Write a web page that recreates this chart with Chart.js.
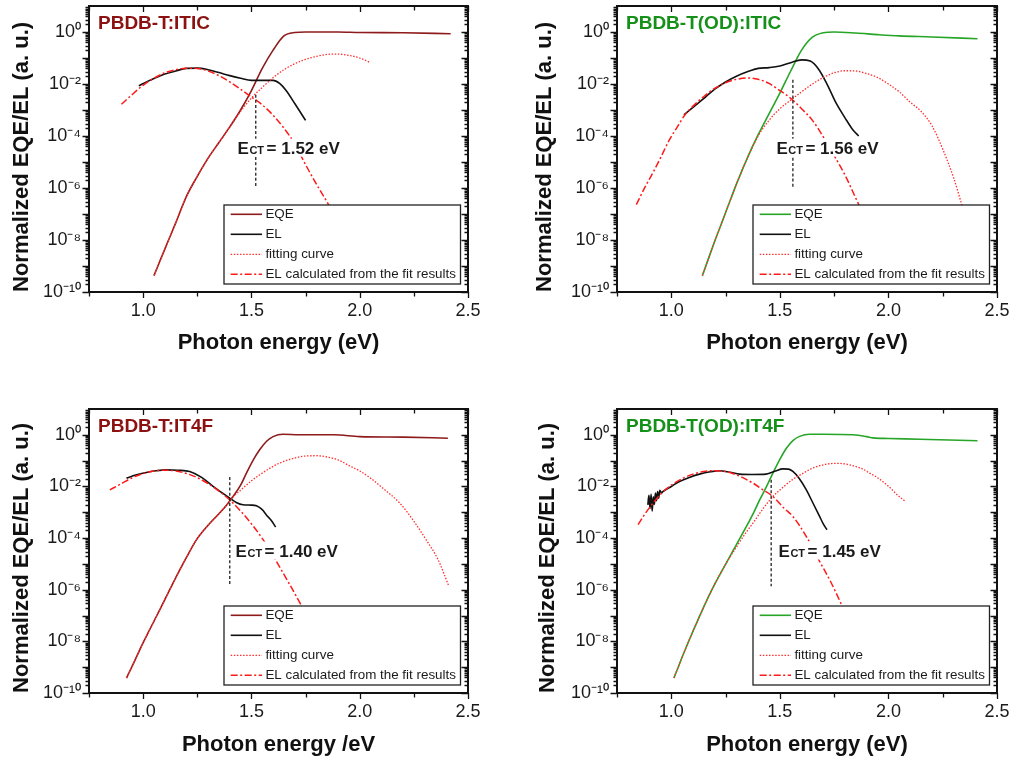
<!DOCTYPE html>
<html><head><meta charset="utf-8">
<script src="https://cdn.jsdelivr.net/npm/chart.js@4.4.1/dist/chart.umd.min.js"></script>
<style>
body{margin:0;background:#fff;width:1015px;height:762px;overflow:hidden;position:relative}
.p{position:absolute;width:507px;height:381px}
canvas{display:block}
</style></head><body>
<div class="p" style="left:0;top:0"><canvas id="c0" width="507" height="381"></canvas></div>
<div class="p" style="left:508px;top:0"><canvas id="c1" width="507" height="381"></canvas></div>
<div class="p" style="left:0;top:381px"><canvas id="c2" width="507" height="381"></canvas></div>
<div class="p" style="left:508px;top:381px"><canvas id="c3" width="507" height="381"></canvas></div>
<script>
// ---------- text / ticks ----------
const panelTitles = ['PBDB-T:ITIC', 'PBDB-T(OD):ITIC', 'PBDB-T:IT4F', 'PBDB-T(OD):IT4F'];
const xTitles = ['Photon energy (eV)', 'Photon energy (eV)', 'Photon energy /eV', 'Photon energy (eV)'];
const yTitle = 'Normalized EQE/EL (a. u.)';
const legendLabels = ['EQE', 'EL', 'fitting curve', 'EL calculated from the fit results'];
const xTicks = [1.0, 1.5, 2.0, 2.5];
const xTickMarks = [0.75, 1.0, 1.25, 1.5, 1.75, 2.0, 2.25, 2.5];
const yTicks = [1e-10, 1e-8, 1e-6, 1e-4, 1e-2, 1];
const yTickLabels = ['10\u207B\u00B9\u2070', '10\u207B\u2078', '10\u207B\u2076', '10\u207B\u2074', '10\u207B\u00B2', '10\u2070'];
const ectValues = [1.52, 1.56, 1.40, 1.46];
const ectLabels = ['1.52', '1.56', '1.40', '1.45'];
const ectYRanges = [[3.9e-3, 1e-6], [1.45e-2, 1e-6], [2.3e-2, 1.35e-6], [1.8e-2, 1.35e-6]];
const ectLabelPos = [[1.436, 3.55e-5], [1.484, 3.55e-5], [1.427, 3.3e-5], [1.494, 3.3e-5]];

// ---------- Panel 1: PBDB-T:ITIC ----------
const p1EQE = [[1.05,4.27e-10],[1.10,4.47e-9],[1.15,4.47e-8],[1.20,4.79e-7],[1.25,2.82e-6],[1.30,1.41e-5],[1.35,5.62e-5],[1.40,2.24e-4],[1.45,1.0e-3],[1.50,5.62e-3],[1.55,3.98e-2],[1.60,0.20],[1.65,0.708],[1.70,0.955],[1.75,1.0],[1.90,1.0],[2.0,0.955],[2.2,0.933],[2.42,0.861]];
const p1EL = [[0.98,8.5e-3],[1.02,1.26e-2],[1.06,1.78e-2],[1.10,2.4e-2],[1.15,3.16e-2],[1.20,3.98e-2],[1.25,4.07e-2],[1.30,3.55e-2],[1.35,2.75e-2],[1.40,2.1e-2],[1.45,1.66e-2],[1.50,1.38e-2],[1.55,1.38e-2],[1.60,1.38e-2],[1.63,1.05e-2],[1.66,5.6e-3],[1.70,1.78e-3],[1.75,4.0e-4]];
const p1Fit = [[1.05,4.27e-10],[1.10,4.47e-9],[1.15,4.47e-8],[1.20,4.79e-7],[1.25,2.82e-6],[1.30,1.41e-5],[1.35,5.62e-5],[1.40,2.24e-4],[1.45,8.9e-4],[1.50,2.88e-3],[1.55,7.4e-3],[1.60,1.74e-2],[1.65,3.55e-2],[1.70,6.0e-2],[1.75,8.9e-2],[1.80,0.115],[1.85,0.138],[1.90,0.141],[1.95,0.126],[2.00,0.1],[2.05,6.6e-2]];
const p1Calc = [[0.90,1.66e-3],[0.95,3.98e-3],[1.00,8.9e-3],[1.05,1.66e-2],[1.10,2.69e-2],[1.15,3.55e-2],[1.20,4.07e-2],[1.25,3.98e-2],[1.30,3.16e-2],[1.35,2.09e-2],[1.40,1.2e-2],[1.45,6.3e-3],[1.50,3.16e-3],[1.55,1.58e-3],[1.60,6.3e-4],[1.65,2.0e-4],[1.70,5.0e-5],[1.75,7.9e-6],[1.80,1.41e-6],[1.85,2.82e-7],[1.90,5.0e-8],[1.95,7.9e-9]];

// ---------- Panel 2: PBDB-T(OD):ITIC ----------
const p2EQE = [[1.143,4.27e-10],[1.20,8.9e-9],[1.25,1.12e-7],[1.30,1.41e-6],[1.35,1.41e-5],[1.40,1.12e-4],[1.45,7.1e-4],[1.50,4.47e-3],[1.55,3.16e-2],[1.60,0.2],[1.65,0.63],[1.70,0.933],[1.75,1.0],[1.85,0.912],[1.95,0.794],[2.05,0.708],[2.20,0.646],[2.41,0.55]];
const p2EL = [[1.058,6.6e-4],[1.10,1.26e-3],[1.16,3.3e-3],[1.20,6.3e-3],[1.25,1.2e-2],[1.30,2.0e-2],[1.35,2.95e-2],[1.40,3.98e-2],[1.45,4.27e-2],[1.50,4.9e-2],[1.55,6.6e-2],[1.60,8.5e-2],[1.64,7.6e-2],[1.68,3.55e-2],[1.72,8.9e-3],[1.76,1.78e-3],[1.80,5.0e-4],[1.835,1.78e-4],[1.863,1.0e-4]];
const p2Fit = [[1.143,4.27e-10],[1.20,8.9e-9],[1.25,1.12e-7],[1.30,1.41e-6],[1.35,1.41e-5],[1.40,1.0e-4],[1.45,3.98e-4],[1.50,1.12e-3],[1.55,2.4e-3],[1.60,5.0e-3],[1.65,1.0e-2],[1.70,1.78e-2],[1.75,2.69e-2],[1.80,3.24e-2],[1.85,3.16e-2],[1.90,2.51e-2],[1.95,1.78e-2],[2.00,1.0e-2],[2.05,5.0e-3],[2.10,2.0e-3],[2.15,8.9e-4],[2.20,2.51e-4],[2.25,3.16e-5],[2.30,2.51e-6],[2.34,2.0e-7],[2.38,1.58e-8]];
const p2Calc = [[0.839,2.3e-7],[0.88,1.12e-6],[0.915,3.8e-6],[0.95,1.41e-5],[0.99,6.8e-5],[1.03,2.4e-4],[1.06,6.0e-4],[1.10,1.41e-3],[1.15,3.3e-3],[1.20,6.8e-3],[1.25,1.12e-2],[1.30,1.51e-2],[1.35,1.7e-2],[1.40,1.51e-2],[1.45,1.05e-2],[1.50,5.6e-3],[1.55,2.82e-3],[1.60,1.12e-3],[1.65,4.0e-4],[1.70,9.3e-5],[1.75,1.78e-5],[1.80,3.16e-6],[1.85,4.0e-7],[1.90,5.0e-8]];

// ---------- Panel 3: PBDB-T:IT4F ----------
const p3EQE = [[0.923,3.8e-10],[0.95,1.12e-9],[1.00,8.9e-9],[1.03,2.82e-8],[1.08,1.9e-7],[1.138,1.82e-6],[1.20,1.78e-5],[1.246,8.5e-5],[1.30,3.16e-4],[1.338,6.9e-4],[1.38,1.66e-3],[1.415,4.07e-3],[1.45,1.12e-2],[1.477,3.3e-2],[1.51,0.112],[1.538,0.263],[1.57,0.562],[1.60,0.851],[1.646,1.05],[1.72,1.0],[1.88,1.0],[2.0,0.851],[2.2,0.813],[2.407,0.741]];
const p3EL = [[0.923,2.1e-2],[0.97,2.82e-2],[1.02,3.55e-2],[1.06,4.07e-2],[1.108,4.4e-2],[1.16,4.27e-2],[1.215,3.8e-2],[1.27,2.24e-2],[1.323,1.0e-2],[1.36,6.0e-3],[1.40,3.55e-3],[1.43,2.4e-3],[1.461,1.95e-3],[1.50,1.9e-3],[1.523,1.78e-3],[1.55,1.26e-3],[1.569,7.9e-4],[1.59,5.0e-4],[1.612,2.7e-4]];
const p3Fit = [[0.923,3.8e-10],[0.95,1.12e-9],[1.00,8.9e-9],[1.03,2.82e-8],[1.08,1.9e-7],[1.138,1.82e-6],[1.20,1.78e-5],[1.246,8.5e-5],[1.30,3.16e-4],[1.338,6.9e-4],[1.38,1.66e-3],[1.415,3.9e-3],[1.45,7.1e-3],[1.50,1.66e-2],[1.538,2.82e-2],[1.60,6.0e-2],[1.646,9.1e-2],[1.70,0.126],[1.75,0.151],[1.80,0.155],[1.85,0.138],[1.90,0.107],[1.953,6.3e-2],[2.00,3.98e-2],[2.05,2.1e-2],[2.10,9.5e-3],[2.184,2.3e-3],[2.25,4.5e-4],[2.307,8.5e-5],[2.36,1.58e-5],[2.412,1.35e-6]];
const p3Calc = [[0.846,7.4e-3],[0.90,1.29e-2],[0.95,2.19e-2],[1.00,3.16e-2],[1.05,3.98e-2],[1.10,4.27e-2],[1.15,3.98e-2],[1.20,3.16e-2],[1.25,2.19e-2],[1.30,1.29e-2],[1.35,6.6e-3],[1.40,3.0e-3],[1.45,1.12e-3],[1.50,3.55e-4],[1.553,8.9e-5],[1.615,1.26e-5],[1.677,1.58e-6],[1.73,2.5e-7],[1.78,4.0e-8]];

// ---------- Panel 4: PBDB-T(OD):IT4F ----------
const p4EQE = [[1.012,3.8e-10],[1.07,6.3e-9],[1.13,9.3e-8],[1.19,1.12e-6],[1.253,1.07e-5],[1.30,5.6e-5],[1.346,2.82e-4],[1.38,1.0e-3],[1.407,3.0e-3],[1.44,1.05e-2],[1.468,3.3e-2],[1.50,0.112],[1.53,0.30],[1.56,0.60],[1.591,0.87],[1.637,1.05],[1.70,1.05],[1.837,1.0],[1.90,0.85],[1.929,0.76],[2.00,0.724],[2.144,0.676],[2.41,0.589]];
const p4EL = [[0.892,1.95e-3],[0.897,4.5e-3],[0.902,1.4e-3],[0.907,5.0e-3],[0.912,1.12e-3],[0.917,4.0e-3],[0.922,2.0e-3],[0.927,5.6e-3],[0.932,2.8e-3],[0.937,6.3e-3],[0.942,3.5e-3],[0.947,7.1e-3],[0.955,5.6e-3],[0.961,6.3e-3],[1.00,1.0e-2],[1.038,1.55e-2],[1.08,2.19e-2],[1.13,3.0e-2],[1.18,3.7e-2],[1.222,4.07e-2],[1.27,3.55e-2],[1.315,3.0e-2],[1.37,2.9e-2],[1.437,3.0e-2],[1.48,3.98e-2],[1.514,4.8e-2],[1.54,4.7e-2],[1.56,3.8e-2],[1.59,2.0e-2],[1.622,7.4e-3],[1.65,2.5e-3],[1.683,6.9e-4],[1.70,3.55e-4],[1.717,2.1e-4]];
const p4Fit = [[1.012,3.8e-10],[1.07,6.3e-9],[1.13,9.3e-8],[1.19,1.12e-6],[1.253,1.07e-5],[1.30,4.5e-5],[1.346,1.74e-4],[1.376,3.8e-4],[1.42,1.29e-3],[1.468,4.07e-3],[1.52,1.02e-2],[1.56,1.9e-2],[1.606,3.2e-2],[1.65,5.1e-2],[1.70,6.9e-2],[1.76,7.9e-2],[1.82,6.9e-2],[1.88,4.8e-2],[1.913,3.3e-2],[1.95,2.19e-2],[2.00,1.02e-2],[2.04,4.8e-3],[2.075,2.75e-3]];
const p4Calc = [[0.847,3.3e-4],[0.88,8.9e-4],[0.92,2.5e-3],[0.96,6.0e-3],[1.00,1.12e-2],[1.05,2.0e-2],[1.10,3.0e-2],[1.15,3.8e-2],[1.20,4.07e-2],[1.25,3.8e-2],[1.30,2.82e-2],[1.376,1.35e-2],[1.42,7.6e-3],[1.468,4.07e-3],[1.52,1.41e-3],[1.56,6.9e-4],[1.622,1.15e-4],[1.683,1.26e-5],[1.737,1.82e-6],[1.788,2.24e-7],[1.83,4.0e-8]];

const seriesByPanel = [
  [p1EQE, p1EL, p1Fit, p1Calc],
  [p2EQE, p2EL, p2Fit, p2Calc],
  [p3EQE, p3EL, p3Fit, p3Calc],
  [p4EQE, p4EL, p4Fit, p4Calc]
];

// ---------- layout / style (not data) ----------
const RED_T = '#8c1212', GRN_T = '#15911a';
const RED_L = '#8e1b1b', GRN_L = '#27a527';
const layouts = [
  {area:{l:89, r:468, t:6, b:292}, xPad:24.8, yPad:8.5, tColor:RED_T, eqe:RED_L},
  {area:{l:109, r:489, t:6, b:292}, xPad:24.8, yPad:23.8, tColor:GRN_T, eqe:GRN_L},
  {area:{l:89, r:468, t:28, b:312}, xPad:3.8, yPad:8.5, tColor:RED_T, eqe:RED_L},
  {area:{l:109, r:489, t:28, b:312}, xPad:3.8, yPad:26.8, tColor:GRN_T, eqe:GRN_L}
];
const FONT = "'Liberation Sans', Arial, Helvetica, sans-serif";
const W = 507, H = 381;

const deco = {
  id: 'deco',
  afterDatasetsDraw(chart) {
    const o = chart.options.plugins.deco;
    const {ctx, chartArea: a, scales: {x, y}} = chart;
    ctx.save();
    // E_CT label
    const lx = x.getPixelForValue(o.ectPos[0]), ly = y.getPixelForValue(o.ectPos[1]);
    ctx.textBaseline = 'alphabetic';
    const base = ly + 6;
    ctx.font = 'bold 17px ' + FONT; const wE = ctx.measureText('E').width;
    ctx.font = 'bold 11px ' + FONT; const wC = ctx.measureText('CT').width;
    ctx.font = 'bold 17px ' + FONT; const rest = '= ' + o.ectText + ' eV'; const wR = ctx.measureText(rest).width;
    ctx.fillStyle = '#fff';
    ctx.fillRect(lx - 1, ly - 9, wE + wC + 3 + wR + 2, 18);
    ctx.fillStyle = '#1a1a1a';
    ctx.fillText('E', lx, base);
    ctx.font = 'bold 11px ' + FONT; ctx.fillText('CT', lx + wE + 0.5, base);
    ctx.font = 'bold 17px ' + FONT; ctx.fillText(rest, lx + wE + wC + 3, base);
    // legend box
    const bw = 236.5, bh = 79;
    const bx = a.right - 7.5 - bw, by = a.bottom - 8 - bh;
    ctx.fillStyle = '#fff'; ctx.fillRect(bx, by, bw, bh);
    ctx.strokeStyle = '#222'; ctx.lineWidth = 1.3; ctx.strokeRect(bx, by, bw, bh);
    ctx.font = '13.4px ' + FONT; ctx.textBaseline = 'middle';
    for (let i = 0; i < 4; i++) {
      const ds = chart.data.datasets[i];
      const ry = by + 9.3 + i * 20;
      ctx.beginPath();
      ctx.setLineDash(ds.borderDash || []);
      ctx.strokeStyle = ds.borderColor; ctx.lineWidth = ds.borderWidth;
      ctx.moveTo(bx + 6.7, ry); ctx.lineTo(bx + 38, ry); ctx.stroke();
      ctx.setLineDash([]);
      ctx.fillStyle = '#1a1a1a';
      ctx.fillText(ds.label, bx + 41.4, ry + 0.5);
    }
    ctx.restore();
  },
  afterDraw(chart) {
    const o = chart.options.plugins.deco;
    const {ctx, chartArea: a, scales: {x, y}} = chart;
    ctx.save();
    ctx.strokeStyle = '#111';
    ctx.lineWidth = 1.3;
    ctx.beginPath();
    for (const v of xTickMarks) {
      const px = Math.round(x.getPixelForValue(v)) + 0.5;
      const major = Math.abs(v * 2 - Math.round(v * 2)) < 1e-6;
      const L = major ? 6 : 4.5;
      ctx.moveTo(px, a.bottom); ctx.lineTo(px, a.bottom + L);
      ctx.moveTo(px, a.top); ctx.lineTo(px, a.top + L);
    }
    for (let e = -10; e <= 0; e++) {
      for (let k = 1; k <= 9; k++) {
        const v = k * Math.pow(10, e);
        const py = Math.round(y.getPixelForValue(v)) + 0.5;
        const L = k === 1 ? 6.5 : 3.5;
        ctx.moveTo(a.left, py); ctx.lineTo(a.left - L, py);
        ctx.moveTo(a.right, py); ctx.lineTo(a.right - L, py);
      }
    }
    ctx.stroke();
    ctx.lineWidth = 2;
    ctx.strokeRect(a.left, a.top, a.right - a.left, a.bottom - a.top);
    // panel title
    ctx.font = 'bold 19px ' + FONT;
    ctx.fillStyle = o.tColor; ctx.textBaseline = 'middle';
    ctx.fillText(o.title, a.left + 9, a.top + 18);
    ctx.restore();
  }
};

function mkds(label, pts, color, width, dash, order) {
  return {label, data: pts.map(p => ({x: p[0], y: p[1]})), borderColor: color, borderWidth: width,
    borderDash: dash, pointRadius: 0, fill: false, cubicInterpolationMode: 'monotone', order};
}

layouts.forEach((L, i) => {
  const s = seriesByPanel[i];
  const datasets = [
    mkds(legendLabels[0], s[0], L.eqe, 1.6, [], 4),
    mkds(legendLabels[1], s[1], '#111111', 1.6, [], 3),
    mkds(legendLabels[2], s[2], '#ff3030', 1.3, [1.5, 1.6], 2),
    mkds(legendLabels[3], s[3], '#ff1a1a', 1.5, [7, 2.5, 2, 2.5], 1),
    {label: 'ECT', data: [{x: ectValues[i], y: ectYRanges[i][0]}, {x: ectValues[i], y: ectYRanges[i][1]}],
     borderColor: '#222', borderWidth: 1.3, borderDash: [3, 2.2], pointRadius: 0, tension: 0, order: 0}
  ];
  new Chart(document.getElementById('c' + i), {
    type: 'line',
    data: {datasets},
    options: {
      responsive: false, animation: false, devicePixelRatio: 1,
      layout: {padding: {left: 0, top: L.area.t, right: W - L.area.r, bottom: 0}},
      plugins: {
        legend: {display: false}, title: {display: false}, tooltip: {enabled: false},
        deco: {title: panelTitles[i], tColor: L.tColor, ectText: ectLabels[i], ectPos: ectLabelPos[i]}
      },
      scales: {
        x: {
          type: 'linear', min: 0.75, max: 2.5,
          grid: {display: false, drawTicks: false}, border: {display: false},
          afterBuildTicks: sc => { sc.ticks = xTicks.map(v => ({value: v})); },
          afterFit: sc => { sc.height = H - L.area.b; sc.paddingLeft = 0; sc.paddingRight = 0; },
          ticks: {font: {family: FONT, size: 18}, color: '#1a1a1a', padding: 8, maxRotation: 0, autoSkip: false,
                  callback: v => Number(v).toFixed(1)},
          title: {display: true, text: xTitles[i], font: {family: FONT, size: 22, weight: 'bold'}, color: '#111',
                  padding: {top: 0, bottom: L.xPad}}
        },
        y: {
          type: 'logarithmic', min: 1e-10, max: 10,
          grid: {display: false, drawTicks: false}, border: {display: false},
          afterBuildTicks: sc => { sc.ticks = yTicks.map(v => ({value: v})); },
          afterFit: sc => { sc.width = L.area.l; sc.paddingTop = 0; sc.paddingBottom = 0; },
          ticks: {font: {family: FONT, size: 18}, color: '#1a1a1a', padding: 8, autoSkip: false,
                  callback: (v, idx) => yTickLabels[idx]},
          title: {display: true, text: yTitle, align: 'start', font: {family: FONT, size: 22, weight: 'bold'}, color: '#111',
                  padding: {top: L.yPad, bottom: 0}}
        }
      }
    },
    plugins: [deco]
  });
});
</script>
</body></html>
